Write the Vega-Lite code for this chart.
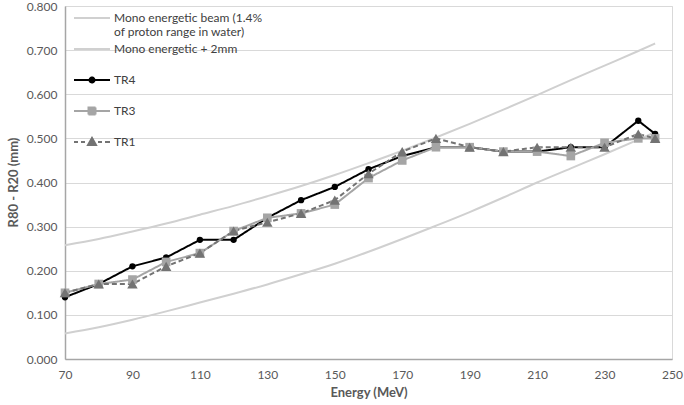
{
  "$schema": "https://vega.github.io/schema/vega-lite/v6.json",
  "width": 607,
  "height": 353,
  "autosize": {"type": "none"},
  "padding": {"left": 65, "top": 6, "right": 12, "bottom": 46},
  "background": "white",
  "config": {
    "font": "Lato",
    "view": {"stroke": "#d9d9d9", "strokeWidth": 1},
    "axis": {"labelFont": "Lato", "titleFont": "Lato", "labelColor": "#595959", "titleColor": "#595959", "labelFontSize": 12, "titleFontSize": 13}
  },
  "data": {"values": [
    {"series": "Mono energetic beam (1.4% of proton range in water)", "energy": 70, "value": 0.058},
    {"series": "Mono energetic beam (1.4% of proton range in water)", "energy": 80, "value": 0.072},
    {"series": "Mono energetic beam (1.4% of proton range in water)", "energy": 90, "value": 0.089},
    {"series": "Mono energetic beam (1.4% of proton range in water)", "energy": 100, "value": 0.108},
    {"series": "Mono energetic beam (1.4% of proton range in water)", "energy": 110, "value": 0.128},
    {"series": "Mono energetic beam (1.4% of proton range in water)", "energy": 120, "value": 0.148},
    {"series": "Mono energetic beam (1.4% of proton range in water)", "energy": 130, "value": 0.169},
    {"series": "Mono energetic beam (1.4% of proton range in water)", "energy": 140, "value": 0.192},
    {"series": "Mono energetic beam (1.4% of proton range in water)", "energy": 150, "value": 0.216},
    {"series": "Mono energetic beam (1.4% of proton range in water)", "energy": 160, "value": 0.243},
    {"series": "Mono energetic beam (1.4% of proton range in water)", "energy": 170, "value": 0.272},
    {"series": "Mono energetic beam (1.4% of proton range in water)", "energy": 180, "value": 0.302},
    {"series": "Mono energetic beam (1.4% of proton range in water)", "energy": 190, "value": 0.333},
    {"series": "Mono energetic beam (1.4% of proton range in water)", "energy": 200, "value": 0.366},
    {"series": "Mono energetic beam (1.4% of proton range in water)", "energy": 210, "value": 0.400},
    {"series": "Mono energetic beam (1.4% of proton range in water)", "energy": 220, "value": 0.432},
    {"series": "Mono energetic beam (1.4% of proton range in water)", "energy": 230, "value": 0.464},
    {"series": "Mono energetic beam (1.4% of proton range in water)", "energy": 240, "value": 0.497},
    {"series": "Mono energetic beam (1.4% of proton range in water)", "energy": 245, "value": 0.514},
    {"series": "Mono energetic + 2mm", "energy": 70, "value": 0.258},
    {"series": "Mono energetic + 2mm", "energy": 80, "value": 0.272},
    {"series": "Mono energetic + 2mm", "energy": 90, "value": 0.289},
    {"series": "Mono energetic + 2mm", "energy": 100, "value": 0.307},
    {"series": "Mono energetic + 2mm", "energy": 110, "value": 0.327},
    {"series": "Mono energetic + 2mm", "energy": 120, "value": 0.347},
    {"series": "Mono energetic + 2mm", "energy": 130, "value": 0.369},
    {"series": "Mono energetic + 2mm", "energy": 140, "value": 0.392},
    {"series": "Mono energetic + 2mm", "energy": 150, "value": 0.417},
    {"series": "Mono energetic + 2mm", "energy": 160, "value": 0.444},
    {"series": "Mono energetic + 2mm", "energy": 170, "value": 0.472},
    {"series": "Mono energetic + 2mm", "energy": 180, "value": 0.502},
    {"series": "Mono energetic + 2mm", "energy": 190, "value": 0.533},
    {"series": "Mono energetic + 2mm", "energy": 200, "value": 0.565},
    {"series": "Mono energetic + 2mm", "energy": 210, "value": 0.598},
    {"series": "Mono energetic + 2mm", "energy": 220, "value": 0.632},
    {"series": "Mono energetic + 2mm", "energy": 230, "value": 0.665},
    {"series": "Mono energetic + 2mm", "energy": 240, "value": 0.698},
    {"series": "Mono energetic + 2mm", "energy": 245, "value": 0.715},
    {"series": "TR4", "energy": 70, "value": 0.14},
    {"series": "TR4", "energy": 80, "value": 0.17},
    {"series": "TR4", "energy": 90, "value": 0.21},
    {"series": "TR4", "energy": 100, "value": 0.23},
    {"series": "TR4", "energy": 110, "value": 0.27},
    {"series": "TR4", "energy": 120, "value": 0.27},
    {"series": "TR4", "energy": 130, "value": 0.32},
    {"series": "TR4", "energy": 140, "value": 0.36},
    {"series": "TR4", "energy": 150, "value": 0.39},
    {"series": "TR4", "energy": 160, "value": 0.43},
    {"series": "TR4", "energy": 170, "value": 0.46},
    {"series": "TR4", "energy": 180, "value": 0.48},
    {"series": "TR4", "energy": 190, "value": 0.48},
    {"series": "TR4", "energy": 200, "value": 0.47},
    {"series": "TR4", "energy": 210, "value": 0.47},
    {"series": "TR4", "energy": 220, "value": 0.48},
    {"series": "TR4", "energy": 230, "value": 0.48},
    {"series": "TR4", "energy": 240, "value": 0.54},
    {"series": "TR4", "energy": 245, "value": 0.51},
    {"series": "TR3", "energy": 70, "value": 0.15},
    {"series": "TR3", "energy": 80, "value": 0.17},
    {"series": "TR3", "energy": 90, "value": 0.18},
    {"series": "TR3", "energy": 100, "value": 0.22},
    {"series": "TR3", "energy": 110, "value": 0.24},
    {"series": "TR3", "energy": 120, "value": 0.29},
    {"series": "TR3", "energy": 130, "value": 0.32},
    {"series": "TR3", "energy": 140, "value": 0.33},
    {"series": "TR3", "energy": 150, "value": 0.35},
    {"series": "TR3", "energy": 160, "value": 0.41},
    {"series": "TR3", "energy": 170, "value": 0.45},
    {"series": "TR3", "energy": 180, "value": 0.48},
    {"series": "TR3", "energy": 190, "value": 0.48},
    {"series": "TR3", "energy": 200, "value": 0.47},
    {"series": "TR3", "energy": 210, "value": 0.47},
    {"series": "TR3", "energy": 220, "value": 0.46},
    {"series": "TR3", "energy": 230, "value": 0.49},
    {"series": "TR3", "energy": 240, "value": 0.50},
    {"series": "TR3", "energy": 245, "value": 0.50},
    {"series": "TR1", "energy": 70, "value": 0.15},
    {"series": "TR1", "energy": 80, "value": 0.17},
    {"series": "TR1", "energy": 90, "value": 0.17},
    {"series": "TR1", "energy": 100, "value": 0.21},
    {"series": "TR1", "energy": 110, "value": 0.24},
    {"series": "TR1", "energy": 120, "value": 0.29},
    {"series": "TR1", "energy": 130, "value": 0.31},
    {"series": "TR1", "energy": 140, "value": 0.33},
    {"series": "TR1", "energy": 150, "value": 0.36},
    {"series": "TR1", "energy": 160, "value": 0.42},
    {"series": "TR1", "energy": 170, "value": 0.47},
    {"series": "TR1", "energy": 180, "value": 0.50},
    {"series": "TR1", "energy": 190, "value": 0.48},
    {"series": "TR1", "energy": 200, "value": 0.47},
    {"series": "TR1", "energy": 210, "value": 0.48},
    {"series": "TR1", "energy": 220, "value": 0.48},
    {"series": "TR1", "energy": 230, "value": 0.48},
    {"series": "TR1", "energy": 240, "value": 0.51},
    {"series": "TR1", "energy": 245, "value": 0.50}
  ]},
  "encoding": {
    "x": {"field": "energy", "type": "quantitative", "title": "Energy (MeV)",
      "scale": {"domain": [70, 250], "nice": false, "zero": false},
      "axis": {"values": [70, 90, 110, 130, 150, 170, 190, 210, 230, 250], "grid": false, "ticks": false, "domainColor": "#a6a6a6", "domainWidth": 1.5, "labelPadding": 10, "titlePadding": 6, "labelFlush": false}},
    "y": {"field": "value", "type": "quantitative", "title": "R80 - R20 (mm)",
      "scale": {"domain": [0, 0.8], "nice": false},
      "axis": {"values": [0, 0.1, 0.2, 0.3, 0.4, 0.5, 0.6, 0.7, 0.8], "format": ".3f", "grid": true, "gridColor": "#d9d9d9", "gridWidth": 1, "ticks": false, "domainColor": "#a6a6a6", "domainWidth": 1.5, "labelPadding": 8, "titleX": -52, "titleY": 176, "titleBaseline": "middle"}},
    "color": {"field": "series", "type": "nominal",
      "scale": {"domain": ["Mono energetic beam (1.4% of proton range in water)", "Mono energetic + 2mm", "TR4", "TR3", "TR1"], "range": ["#d0d0d0", "#d0d0d0", "#000000", "#a5a5a5", "#737373"]},
      "legend": {"orient": "none", "legendX": 16, "legendY": 1, "title": null,
        "symbolSize": 400, "symbolStrokeWidth": 2, "labelOffset": 11, "labelFontSize": 12, "labelFont": "Lato", "labelColor": "#404040",
        "gridAlign": "all", "rowPadding": 0, "labelLimit": 300,
        "labelExpr": "datum.label == 'Mono energetic beam (1.4% of proton range in water)' ? ['Mono energetic beam (1.4%', 'of proton range in water)'] : datum.label",
        "encode": {"symbols": {"update": {
          "shape": {"signal": "datum.value == 'TR4' ? 'M-1.8,0H1.8M0.25,0A0.25,0.25,0,1,1,-0.25,0A0.25,0.25,0,1,1,0.25,0Z' : datum.value == 'TR3' ? 'M-1.8,0H1.8M-0.35,-0.35H0.35V0.35H-0.35Z' : datum.value == 'TR1' ? 'M-1.8,0H-1.4M-1.1,0H-0.7M0.6,0H1.0M1.3,0H1.8M0,-0.4L0.4,0.3H-0.4Z' : 'M-1.8,0H1.8'"},
          "fill": {"signal": "datum.value == 'TR4' ? '#000000' : datum.value == 'TR3' ? '#a5a5a5' : datum.value == 'TR1' ? '#737373' : 'transparent'"},
          "stroke": {"signal": "datum.value == 'TR4' ? '#000000' : datum.value == 'TR3' ? '#a5a5a5' : datum.value == 'TR1' ? '#737373' : '#d0d0d0'"},
          "strokeDash": {"value": [1, 0]},
          "opacity": {"value": 1}
        }}}}
    }
  },
  "layer": [
    {
      "transform": [{"filter": "datum.series == 'Mono energetic beam (1.4% of proton range in water)' || datum.series == 'Mono energetic + 2mm'"}],
      "mark": {"type": "line", "interpolate": "monotone", "strokeWidth": 2}
    },
    {
      "transform": [{"filter": "datum.series == 'TR4' || datum.series == 'TR3' || datum.series == 'TR1'"}],
      "mark": {"type": "line", "strokeWidth": 2},
      "encoding": {
        "strokeDash": {"field": "series", "type": "nominal", "scale": {"domain": ["TR4", "TR3", "TR1"], "range": [[1, 0], [1, 0], [5, 3]]}, "legend": null}
      }
    },
    {
      "transform": [{"filter": "datum.series == 'TR4' || datum.series == 'TR3' || datum.series == 'TR1'"}],
      "mark": {"type": "point", "filled": true, "opacity": 1},
      "encoding": {
        "shape": {"field": "series", "type": "nominal", "scale": {"domain": ["TR4", "TR3", "TR1"], "range": ["circle", "square", "triangle-up"]}, "legend": null},
        "size": {"field": "series", "type": "nominal", "scale": {"domain": ["TR4", "TR3", "TR1"], "range": [40, 110, 80]}, "legend": null}
      }
    }
  ]
}
